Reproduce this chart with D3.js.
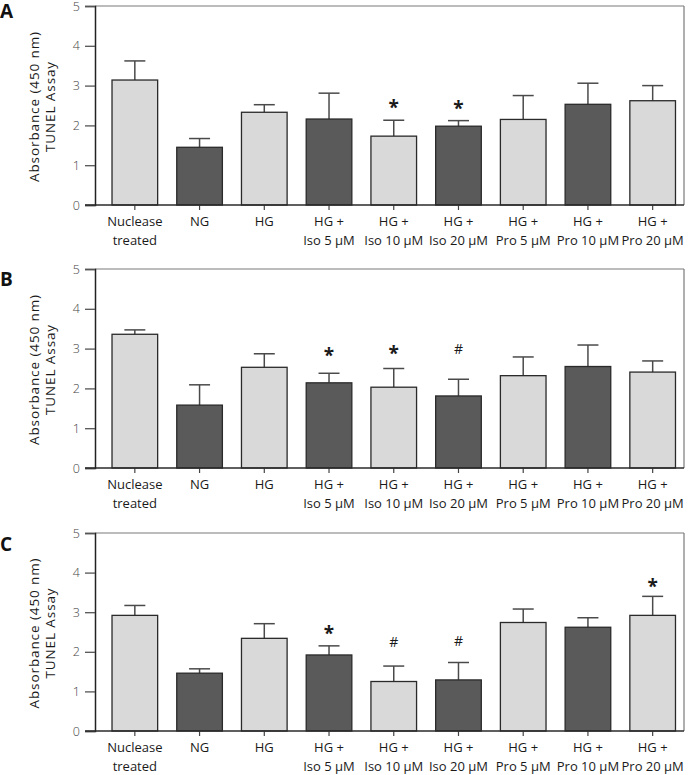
<!DOCTYPE html>
<html>
<head>
<meta charset="utf-8">
<script src="https://cdn.jsdelivr.net/npm/d3@7"></script>
<style>
  html, body { margin: 0; padding: 0; background: #fff; }
  svg { display: block; }
  text { font-family: "Open Sans", "Noto Sans", sans-serif; }
</style>
</head>
<body>
<svg id="chart" width="690" height="775"></svg>
<script>
// ---------------- data ----------------
const categories = ["Nuclease treated", "NG", "HG", "HG + Iso 5 μM", "HG + Iso 10 μM",
                    "HG + Iso 20 μM", "HG + Pro 5 μM", "HG + Pro 10 μM", "HG + Pro 20 μM"];
const labelLine1 = ["Nuclease", "NG", "HG", "HG +", "HG +", "HG +", "HG +", "HG +", "HG +"];
const labelLine2 = ["treated", "", "", "Iso 5 μM", "Iso 10 μM", "Iso 20 μM", "Pro 5 μM", "Pro 10 μM", "Pro 20 μM"];
const barShade = ["light", "dark", "light", "dark", "light", "dark", "light", "dark", "light"];
const yTicks = [0, 1, 2, 3, 4, 5];

const panelNames = ["A", "B", "C"];

const meansA = [3.14, 1.45, 2.33, 2.16, 1.73, 1.98, 2.15, 2.53, 2.62];
const semA   = [0.48, 0.22, 0.19, 0.65, 0.40, 0.14, 0.60, 0.53, 0.38];
const markA  = ["", "", "", "", "*", "*", "", "", ""];
const markYA = [null, null, null, null, 2.57, 2.56, null, null, null];

const meansB = [3.36, 1.58, 2.53, 2.14, 2.03, 1.81, 2.32, 2.55, 2.41];
const semB   = [0.11, 0.51, 0.34, 0.24, 0.47, 0.42, 0.47, 0.54, 0.28];
const markB  = ["", "", "", "*", "*", "#", "", "", ""];
const markYB = [null, null, null, 2.95, 3.01, 2.98, null, null, null];

const meansC = [2.92, 1.46, 2.34, 1.92, 1.25, 1.29, 2.74, 2.62, 2.92];
const semC   = [0.25, 0.11, 0.37, 0.23, 0.39, 0.44, 0.34, 0.24, 0.48];
const markC  = ["", "", "", "*", "#", "#", "", "", "*"];
const markYC = [null, null, null, 2.59, 2.24, 2.27, null, null, 3.77];

const yTitle1 = "Absorbance (450 nm)";
const yTitle2 = "TUNEL Assay";

// ---------------- layout ----------------
const panels = [
  { name: panelNames[0], means: meansA, sem: semA, marks: markA, markY: markYA, top: 6,   bottom: 205, letterY: 18 },
  { name: panelNames[1], means: meansB, sem: semB, marks: markB, markY: markYB, top: 269, bottom: 468, letterY: 286 },
  { name: panelNames[2], means: meansC, sem: semC, marks: markC, markY: markYC, top: 533, bottom: 731, letterY: 551 }
];
const plotLeft = 95, plotRight = 684;
const fills = { light: "#d9d9d9", dark: "#5a5a5a" };

const svg = d3.select("#chart");

const x = d3.scaleBand()
  .domain(categories)
  .range([102.5, 685])
  .paddingInner(0.295)
  .paddingOuter(0.147);

panels.forEach(p => {
  const g = svg.append("g");
  const y = d3.scaleLinear().domain([0, 5]).range([p.bottom, p.top]);

  // frame top & right
  g.append("line").attr("x1", plotLeft).attr("x2", plotRight)
    .attr("y1", y(5)).attr("y2", y(5))
    .attr("stroke", "#7a7a7a").attr("stroke-width", 1.2);
  g.append("line").attr("x1", plotRight).attr("x2", plotRight)
    .attr("y1", y(5)).attr("y2", y(0))
    .attr("stroke", "#7a7a7a").attr("stroke-width", 1.2);

  const data = categories.map((c, i) => ({
    c, i, m: p.means[i], e: p.sem[i], shade: barShade[i], mark: p.marks[i], my: p.markY[i]
  }));

  // error bars
  const eb = g.append("g").attr("stroke", "#4a4a4a").attr("stroke-width", 1.5);
  data.forEach(d => {
    const cx = x(d.c) + x.bandwidth() / 2;
    eb.append("line").attr("x1", cx).attr("x2", cx)
      .attr("y1", y(d.m)).attr("y2", y(d.m + d.e));
    eb.append("line").attr("x1", cx - 10.5).attr("x2", cx + 10.5)
      .attr("y1", y(d.m + d.e)).attr("y2", y(d.m + d.e));
  });

  // bars
  g.append("g").selectAll("rect").data(data).join("rect")
    .attr("x", d => x(d.c))
    .attr("width", x.bandwidth())
    .attr("y", d => y(d.m))
    .attr("height", d => y(0) - y(d.m))
    .attr("fill", d => fills[d.shade])
    .attr("stroke", "#2a2a2a")
    .attr("stroke-width", 1.3);

  // significance marks
  data.filter(d => d.mark).forEach(d => {
    const cx = x(d.c) + x.bandwidth() / 2;
    const isStar = d.mark === "*";
    const fs = isStar ? 19 : 14;
    g.append("text")
      .attr("x", cx)
      .attr("y", y(d.my) + (isStar ? 0.62 * fs : 0.36 * fs))
      .attr("text-anchor", "middle")
      .attr("font-size", fs)
      .attr("font-weight", isStar ? 700 : 400)
      .attr("fill", "#1a1a1a")
      .text(d.mark);
  });

  // y axis
  const yAxis = d3.axisLeft(y).tickValues(yTicks).tickSize(10).tickPadding(5).tickFormat(d3.format("d"));
  const ya = g.append("g").attr("transform", `translate(${plotLeft},0)`).call(yAxis);
  ya.select(".domain").attr("stroke", "#222").attr("stroke-width", 1.5);
  ya.selectAll(".tick line").attr("stroke", "#555").attr("stroke-width", 1.3);
  ya.selectAll(".tick text").attr("font-size", 12.5).attr("fill", "#444")
    .attr("font-weight", 300).attr("font-family", "'Open Sans', sans-serif");

  // x axis
  const xAxis = d3.axisBottom(x).tickSize(5).tickFormat("");
  const xa = g.append("g").attr("transform", `translate(0,${p.bottom})`).call(xAxis);
  xa.select(".domain").remove();
  xa.selectAll(".tick line").attr("stroke", "#444").attr("stroke-width", 1.2);
  g.append("line").attr("x1", plotLeft - 10).attr("x2", plotRight)
    .attr("y1", p.bottom).attr("y2", p.bottom)
    .attr("stroke", "#2a2a2a").attr("stroke-width", 1.5);

  categories.forEach((c, i) => {
    const cx = x(c) + x.bandwidth() / 2;
    g.append("text").attr("x", cx).attr("y", p.bottom + 21)
      .attr("text-anchor", "middle").attr("font-size", 13).attr("fill", "#1a1a1a")
      .text(labelLine1[i]);
    if (labelLine2[i]) {
      g.append("text").attr("x", cx).attr("y", p.bottom + 40)
        .attr("text-anchor", "middle").attr("font-size", 13).attr("fill", "#1a1a1a")
        .text(labelLine2[i]);
    }
  });

  // y title
  const midY = (p.top + p.bottom) / 2 + 1;
  g.append("text").attr("transform", `translate(38.5,${midY}) rotate(-90)`)
    .attr("text-anchor", "middle").attr("font-size", 13.5).attr("letter-spacing", 0.9)
    .attr("fill", "#1a1a1a")
    .text(yTitle1);
  g.append("text").attr("transform", `translate(55,${midY}) rotate(-90)`)
    .attr("text-anchor", "middle").attr("font-size", 13.5).attr("letter-spacing", 0.9)
    .attr("fill", "#1a1a1a")
    .text(yTitle2);

  // panel letter
  g.append("text").attr("x", 0).attr("y", p.letterY)
    .attr("font-size", 19).attr("font-weight", 700).attr("fill", "#111")
    .text(p.name);
});
</script>
</body>
</html>
